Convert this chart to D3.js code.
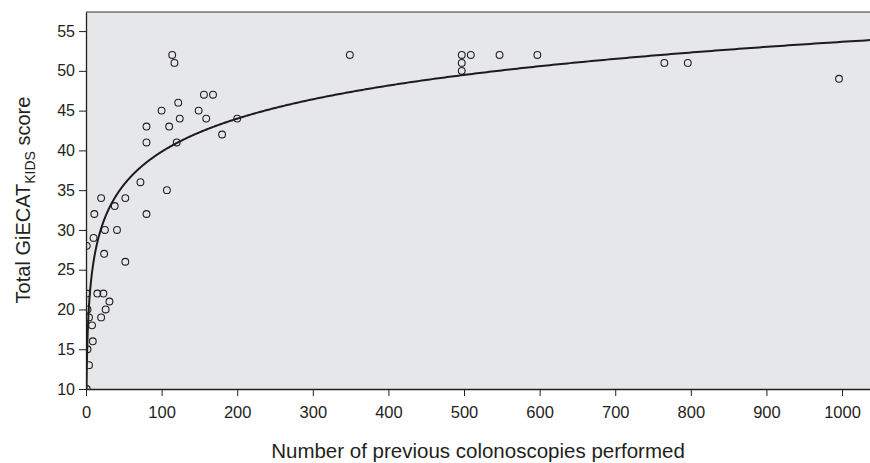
<!DOCTYPE html>
<html><head><meta charset="utf-8">
<script src="https://cdn.jsdelivr.net/npm/d3@7"></script>
<style>
body{margin:0;background:#fff;}
svg text{font-family:"Liberation Sans",Arial,Helvetica,sans-serif;fill:#231f20;}
</style></head><body>
<svg id="chart" width="870" height="463"></svg>
<script>
// Data
const colonoscopies = [1,4,2,9,8,4,20,2,26,31,1,15,23,52,24,1,10,25,41,11,80,38,20,52,107,72,80,120,180,80,110,124,159,200,100,149,122,156,168,114,117,349,497,497,497,509,547,597,765,796,996];
const scores        = [10,13,15,16,18,19,19,20,20,21,22,22,22,26,27,28,29,30,30,32,32,33,34,34,35,36,41,41,42,43,43,44,44,44,45,45,46,47,47,52,51,52,52,51,50,52,52,52,51,51,49];
// logarithmic fit: score = a + b*ln(x)
const fitIntercept = 12.2;
const fitSlope = 6.0;
const xTicks = [0,100,200,300,400,500,600,700,800,900,1000];
const yTicks = [10,15,20,25,30,35,40,45,50,55];

const svg = d3.select("#chart");
const L = 86, R = 870, T = 12, B = 389;
const x = d3.scaleLinear().domain([0, 1037]).range([L, R]);
const y = d3.scaleLinear().domain([10, 57.4]).range([B, T]);

svg.append("rect").attr("x", L).attr("y", T).attr("width", R - L).attr("height", B - T).attr("fill", "#e6e7e8");
svg.append("defs").append("clipPath").attr("id", "clip")
  .append("rect").attr("x", L).attr("y", T).attr("width", R - L).attr("height", B - T);

// fitted curve
const curveX = d3.range(0, 1200).map(i => 0.69 * Math.pow(1037 / 0.69, i / 1199));
const line = d3.line().x(d => x(d)).y(d => y(fitIntercept + fitSlope * Math.log(d)));
svg.append("path").datum(curveX).attr("clip-path", "url(#clip)")
  .attr("d", line).attr("fill", "none").attr("stroke", "#1f1a1b").attr("stroke-width", 2);

// points
svg.append("g").attr("clip-path", "url(#clip)").selectAll("circle")
  .data(colonoscopies.map((c, i) => [c, scores[i]]))
  .join("circle")
  .attr("cx", d => x(d[0])).attr("cy", d => y(d[1])).attr("r", 3.4)
  .attr("fill", "none").attr("stroke", "#231f20").attr("stroke-width", 1.1);

// frame: top line
svg.append("line").attr("x1", L).attr("x2", R).attr("y1", T).attr("y2", T).attr("stroke", "#333").attr("stroke-width", 1.2);

// axes
const xAxis = svg.append("g").attr("transform", `translate(0,${B})`)
  .call(d3.axisBottom(x).tickValues(xTicks).tickFormat(d3.format("d")).tickSize(7).tickPadding(10).tickSizeOuter(0));
xAxis.select(".domain").attr("stroke", "#231f20").attr("stroke-width", 1.3);
xAxis.selectAll(".tick line").attr("stroke", "#231f20");
xAxis.selectAll("text").attr("font-size", 16.5).attr("font-family", "'Liberation Sans Narrow','Liberation Sans',Arial,sans-serif").attr("fill", "#231f20");

const yAxis = svg.append("g").attr("transform", `translate(${L},0)`)
  .call(d3.axisLeft(y).tickValues(yTicks).tickSize(7).tickPadding(4).tickSizeOuter(0));
yAxis.select(".domain").attr("stroke", "#231f20").attr("stroke-width", 1.3);
yAxis.selectAll(".tick line").attr("stroke", "#231f20");
yAxis.selectAll("text").attr("font-size", 16).attr("fill", "#231f20");

// axis titles
svg.append("text").attr("x", 478).attr("y", 458).attr("text-anchor", "middle")
  .attr("font-size", 17).attr("font-family", "'Liberation Sans Narrow','Liberation Sans',Arial,sans-serif")
  .style("font-size", "20.5px").text("Number of previous colonoscopies performed");

const yt = svg.append("text").attr("transform", "translate(30,200) rotate(-90)").attr("text-anchor", "middle").attr("font-size", 20);
yt.append("tspan").text("Total GiECAT");
yt.append("tspan").attr("dy", 5).attr("font-size", 14).text("KIDS");
yt.append("tspan").attr("dy", -5).text(" score");
</script></body></html>
